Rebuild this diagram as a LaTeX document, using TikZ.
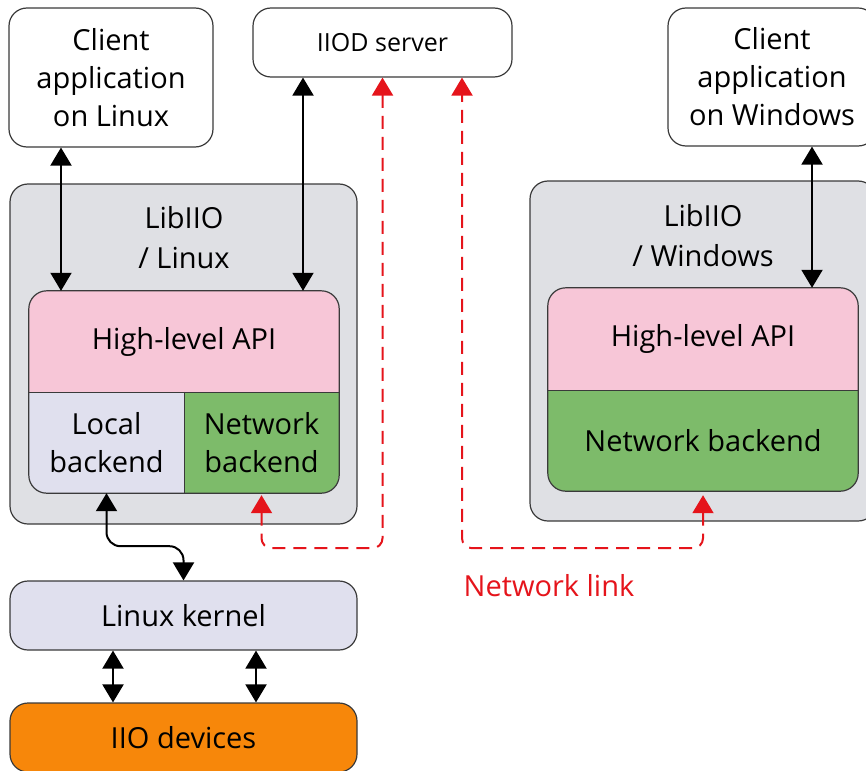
\documentclass[tikz,border=0pt]{standalone}
\usepackage{fontspec}
\setmainfont{Open Sans}
\usetikzlibrary{arrows.meta,calc}
\definecolor{bd}{HTML}{3A3A3A}
\definecolor{bggray}{HTML}{DFE0E4}
\definecolor{pinkc}{HTML}{F7C6D7}
\definecolor{lav}{HTML}{E0E0EE}
\definecolor{greenc}{HTML}{7DBB6A}
\definecolor{orangec}{HTML}{F7870A}
\definecolor{redc}{HTML}{E5141B}
\begin{document}
\begin{tikzpicture}[x=1pt,y=-1pt,
 box/.style={draw=bd, line width=1.2pt, rounded corners=18pt, inner sep=0pt, align=center, font=\fontsize{29}{38}\selectfont},
 cell/.style={inner sep=0pt, align=center, font=\fontsize{29}{38}\selectfont},
 tip/.tip={Triangle[width=21pt,length=18pt]},
 dbl/.style={black, line width=2pt, tip-tip},
 netlink/.style={redc, line width=2pt, dash pattern=on 13pt off 8pt, rounded corners=10pt, tip-tip}
]
\useasboundingbox (0,0) rectangle (866,770);
% top boxes
\node[box, fill=white, minimum width=204pt, minimum height=139pt] (cl) at (111,77.5) {Client\\application\\on Linux};
\node[box, fill=white, minimum width=259pt, minimum height=69pt, font=\fontsize{25}{30}\selectfont] (iiod) at (382.5,42.5) {IIOD server};
\node[box, fill=white, minimum width=208pt, minimum height=138pt] (cw) at (772,77) {Client\\application\\on Windows};
% outer LibIIO boxes
\node[box, fill=bggray, minimum width=347pt, minimum height=340pt] (libl) at (183.5,354) {};
\node[cell, font=\fontsize{29}{40}\selectfont] (libltxt) at (184,238) {LibIIO\\/ Linux};
\node[box, fill=bggray, minimum width=346pt, minimum height=340pt] (libw) at (703,351) {};
\node[cell, font=\fontsize{29}{40}\selectfont] (libwtxt) at (703,236) {LibIIO\\/ Windows};
% Linux composite fills
\begin{scope}
\clip[rounded corners=18pt] (29,291) rectangle (339,493);
\fill[pinkc] (29,291) rectangle (339,392);
\fill[lav] (29,392) rectangle (184,493);
\fill[greenc] (184,392) rectangle (339,493);
\end{scope}
% Windows composite fills
\begin{scope}
\clip[rounded corners=18pt] (548,288) rectangle (858,491);
\fill[pinkc] (548,288) rectangle (858,390);
\fill[greenc] (548,390) rectangle (858,491);
\end{scope}
% cells
\node[cell, minimum width=310pt, minimum height=101pt] (hll) at (184,341.5) {High-level API};
\node[cell, minimum width=155pt, minimum height=101pt] (locl) at (106.5,442.5) {Local\\backend};
\node[cell, minimum width=155pt, minimum height=101pt] (netl) at (261.5,442.5) {Network\\backend};
\node[cell, minimum width=310pt, minimum height=102pt] (hlw) at (703,339) {High-level API};
\node[cell, minimum width=310pt, minimum height=101pt] (netw) at (703,440.5) {Network backend};
\draw[bd, line width=1.2pt, rounded corners=18pt] (hll.north west) rectangle (netl.south east);
\draw[bd, line width=1.2pt] (hll.south west) -- (hll.south east) (locl.north east) -- (locl.south east);
\draw[bd, line width=1.2pt, rounded corners=18pt] (hlw.north west) rectangle (netw.south east);
\draw[bd, line width=1.2pt] (hlw.south west) -- (hlw.south east);
% bottom boxes
\node[box, fill=lav, minimum width=347pt, minimum height=69pt] (kern) at (183.5,615.5) {Linux kernel};
\node[box, fill=orangec, minimum width=347pt, minimum height=69pt] (iio) at (183.5,737.5) {IIO devices};
\node[cell, text=redc] (nl) at (549,586) {Network link};
% connectors
\draw[dbl] ([xshift=-50pt]cl.south) -- ([xshift=-123pt]hll.north);
\draw[dbl] ([xshift=-79.5pt]iiod.south) -- ([xshift=119pt]hll.north);
\draw[dbl] ([xshift=40pt]cw.south) -- ([xshift=109pt]hlw.north);
\draw[dbl, rounded corners=14pt] (locl.south) -- ++(0,53) -| (kern.north);
\draw[dbl] ([xshift=-70.5pt]kern.south) -- ([xshift=-70.5pt]iio.north);
\draw[dbl] ([xshift=72.5pt]kern.south) -- ([xshift=72.5pt]iio.north);
\draw[netlink, shorten <=2pt] (netl.south) -- ++(0,55) -| (iiod.south);
\draw[netlink, shorten <=4pt] (netw.south) -- ++(0,57) -| ([xshift=79.5pt]iiod.south);
\end{tikzpicture}
\end{document}
